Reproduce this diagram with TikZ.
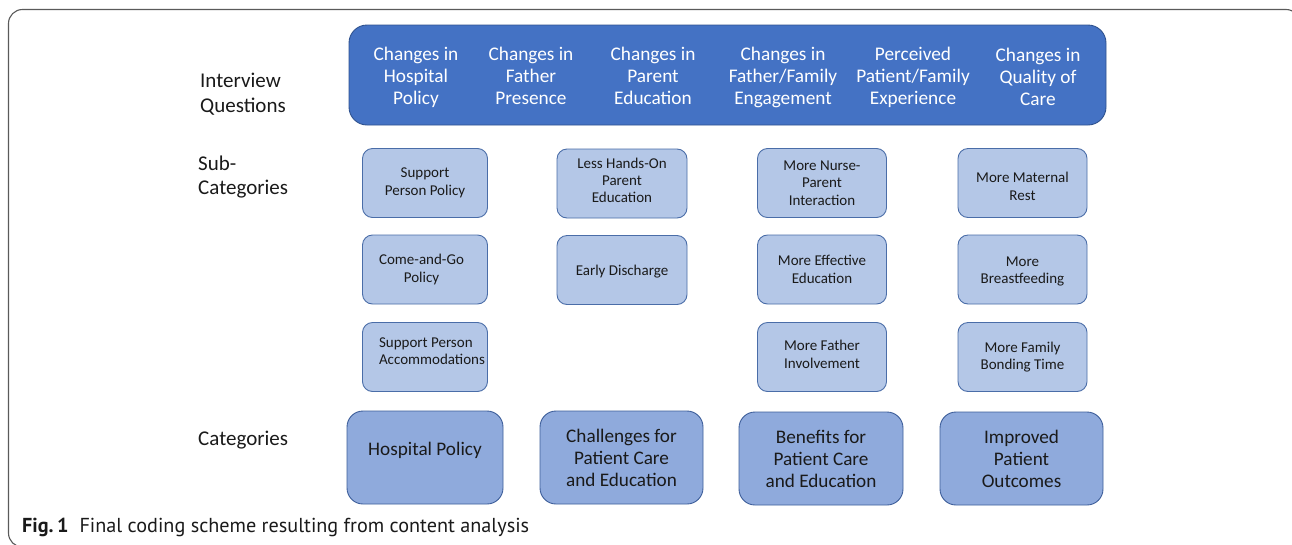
\documentclass[tikz,border=0pt]{standalone}
\usepackage{fontspec}
\setmainfont{Carlito}
\newfontfamily\capfont{PT Sans}
\definecolor{framecol}{HTML}{5A5A5A}
\definecolor{qfill}{HTML}{4472C4}
\definecolor{qedge}{HTML}{2F528F}
\definecolor{subfill}{HTML}{B4C7E7}
\definecolor{subedge}{HTML}{4A6DA8}
\definecolor{catfill}{HTML}{8FAADC}
\definecolor{catedge}{HTML}{3D5E9A}
\definecolor{ink}{HTML}{1A1A1A}
\begin{document}
\begin{tikzpicture}[x=1pt,y=-1pt,
  rowlabel/.style={anchor=west, align=left, text=ink, inner sep=0pt,
    font=\fontsize{21}{24.5}\selectfont},
  qtext/.style={text=white, align=center, inner sep=0pt, anchor=north,
    font=\fontsize{19.3}{22}\selectfont},
  subbox/.style={draw=subedge, fill=subfill, line width=0.9pt, rounded corners=10pt,
    align=center, text=ink, inner sep=0pt, minimum height=69pt,
    font=\fontsize{15}{17.5}\selectfont},
  catbox/.style={draw=catedge, fill=catfill, line width=0.9pt, rounded corners=16pt,
    align=center, text=ink, inner sep=0pt, minimum height=93pt,
    font=\fontsize{19.2}{22}\selectfont}]
\useasboundingbox (0,0) rectangle (1292,544);
\fill[white] (0,0) rectangle (1292,544);

% outer frame
\draw[framecol, line width=1.1pt, rounded corners=14pt] (8.5,9.5) rectangle (1300,547);

% row labels
\node[rowlabel] (lq) at (200,94) {Interview\\Questions};
\node[rowlabel] (ls) at (198,177) {Sub-\\Categories};
\node[rowlabel] (lc) at (198,440) {Categories};

% interview questions banner
\node[draw=qedge, fill=qfill, line width=0.9pt, rounded corners=18pt,
  minimum width=757pt, minimum height=100pt, inner sep=0pt] (banner) at (727.5,75) {};
\node[qtext] (q1) at (416,46.7) {Changes in\\Hospital\\Policy};
\node[qtext] (q2) at (531,46.7) {Changes in\\Father\\Presence};
\node[qtext] (q3) at (653,46.7) {Changes in\\Parent\\Education};
\node[qtext] (q4) at (783,46.7) {Changes in\\Father/Family\\Engagement};
\node[qtext] (q5) at (913,46.7) {Perceived\\Patient/Family\\Experience};
\node[qtext] (q6) at (1038,47.7) {Changes in\\Quality of\\Care};

% sub-categories
\node[subbox, minimum width=125pt] (s11) at (425,183) {Support\\Person Policy};
\node[subbox, minimum width=125pt] (s12) at (425,269.5) {\hspace*{-7pt}Come-and-Go\\\hspace*{-7pt}Policy};
\node[subbox, minimum width=125pt] (s13) at (425,357) {\raisebox{5pt}[\height][\depth]{\hspace*{14pt}\begin{tabular}{@{}l@{}}Support Person\\[-0.5pt]Accommodations\end{tabular}}};

\node[subbox, minimum width=130pt] (s21) at (622,183.5) {\raisebox{1.5pt}[\height][\depth]{\begin{tabular}{@{}c@{}}Less Hands-On\\[-0.5pt]Parent\\[-0.5pt]Education\end{tabular}}};
\node[subbox, minimum width=130pt] (s22) at (622,270) {\raisebox{-2pt}[\height][\depth]{Early Discharge}};

\node[subbox, minimum width=129pt] (s31) at (822,183) {More Nurse-\\Parent\\Interaction};
\node[subbox, minimum width=129pt] (s32) at (822,269.5) {More Effective\\Education};
\node[subbox, minimum width=129pt] (s33) at (822,357) {\raisebox{1pt}[\height][\depth]{\begin{tabular}{@{}c@{}}More Father\\[0pt]Involvement\end{tabular}}};

\node[subbox, minimum width=129pt] (s41) at (1022.5,183) {\raisebox{-5pt}[\height][\depth]{\begin{tabular}{@{}c@{}}More Maternal\\[0pt]Rest\end{tabular}}};
\node[subbox, minimum width=129pt] (s42) at (1022.5,269.5) {\raisebox{-2pt}[\height][\depth]{\begin{tabular}{@{}c@{}}More\\[0pt]Breastfeeding\end{tabular}}};
\node[subbox, minimum width=129pt] (s43) at (1022.5,357) {More Family\\Bonding Time};

% categories
\node[catbox, minimum width=156pt] (c1) at (425,457.5) {\raisebox{7pt}[\height][\depth]{Hospital Policy}};
\node[catbox, minimum width=163pt] (c2) at (621.5,457.5) {Challenges for\\Patient Care\\and Education};
\node[catbox, minimum width=164pt] (c3) at (821,458.5) {Benefits for\\Patient Care\\and Education};
\node[catbox, minimum width=163pt] (c4) at (1021.5,458.5) {Improved\\Patient\\Outcomes};

% caption
\node[anchor=west, inner sep=0pt, text=ink, font=\capfont\fontsize{20.2}{22}\selectfont] (cap) at (22,527)
  {\textbf{Fig.\,1}\hspace{11pt}Final coding scheme resulting from content analysis};
\end{tikzpicture}
\end{document}
